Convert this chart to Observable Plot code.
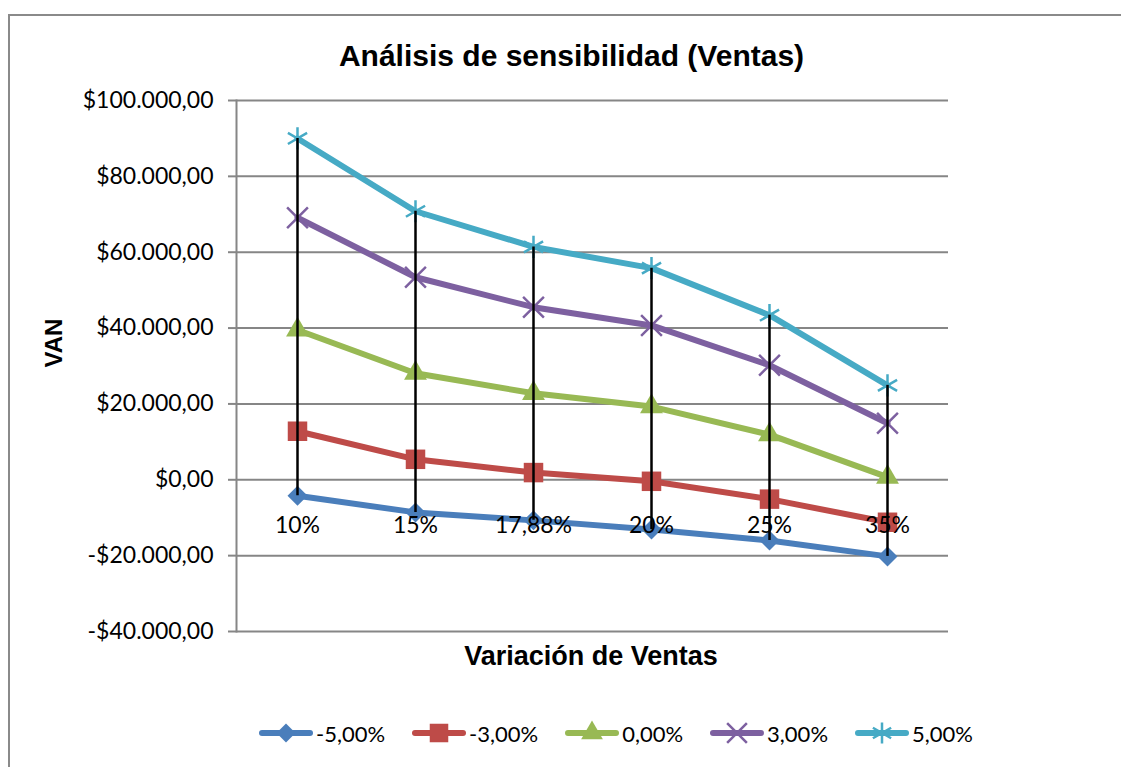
<!DOCTYPE html>
<html><head><meta charset="utf-8">
<script src="https://cdn.jsdelivr.net/npm/d3@7"></script>
<script src="https://cdn.jsdelivr.net/npm/@observablehq/plot@0.6"></script>
<style>
html,body{margin:0;padding:0;background:#fff;overflow:hidden;}
#wrap{position:relative;width:1121px;height:767px;overflow:hidden;}
#border{position:absolute;left:8px;top:14px;width:1200px;height:900px;border:2px solid #8a8a8a;box-sizing:border-box;}
#chart{position:absolute;left:0;top:0;}
#legend{position:absolute;left:259px;top:718px;height:30px;display:flex;gap:27px;align-items:center;font-family:Lato,sans-serif;font-size:22px;color:#000;}
.item{display:flex;align-items:center;}
.item svg{margin-right:3px;display:block;}
</style></head><body>
<div id="wrap"><div id="border"></div><div id="chart"></div><div id="legend"></div></div>
<script>
// ---- data ----
const categories = ["10%", "15%", "17,88%", "20%", "25%", "35%"];
const seriesNames = ["-5,00%", "-3,00%", "0,00%", "3,00%", "5,00%"];
const vanMinus5 = [-4200, -8600, -10700, -13100, -16000, -20200];
const vanMinus3 = [12800, 5400, 1900, -400, -5100, -11200];
const vanZero   = [39500, 28100, 22800, 19300, 11900, 700];
const vanPlus3  = [69100, 53400, 45500, 40700, 30200, 14900];
const vanPlus5  = [90000, 70800, 61400, 55800, 43400, 24900];
const yTicks = [-40000, -20000, 0, 20000, 40000, 60000, 80000, 100000];
const titleText = "Análisis de sensibilidad (Ventas)";
const xTitle = "Variación de Ventas";
const yTitle = "VAN";

// ---- styles ----
const colors = ["#4a7ebb", "#be4b48", "#98b954", "#7d60a0", "#46aac5"];
const symbols = ["diamond2", "square", "triangle", "times", "asterisk"];
const radii = [9, 11, 8.5, 9.5, 10.5];
const filled = [true, true, true, false, false];

const values = [vanMinus5, vanMinus3, vanZero, vanPlus3, vanPlus5];
const rows = seriesNames.flatMap((s, i) => categories.map((c, j) => ({series: s, cat: c, value: values[i][j]})));
const ranges = categories.map((c, j) => ({cat: c, lo: d3.min(values, v => v[j]), hi: d3.max(values, v => v[j])}));

const loc = d3.formatLocale({decimal: ",", thousands: ".", grouping: [3], currency: ["$", ""], minus: "-"});
const fmt = loc.format("$,.2f");

const dotMarks = seriesNames.map((s, i) => Plot.dot(rows.filter(d => d.series === s), {
  x: "cat", y: "value", symbol: symbols[i], r: radii[i],
  fill: filled[i] ? colors[i] : "none",
  stroke: filled[i] ? "none" : colors[i],
  strokeWidth: filled[i] ? 0 : 2.5
}));

const chart = Plot.plot({
  width: 1121, height: 767,
  marginTop: 100, marginBottom: 136, marginLeft: 236, marginRight: 173,
  style: {fontFamily: "Lato, sans-serif", fontSize: "23px", color: "#000", background: "transparent"},
  x: {type: "point", domain: categories, padding: 0.5, axis: null},
  y: {domain: [-40000, 100000], axis: null},
  color: {domain: seriesNames, range: colors},
  marks: [
    Plot.gridY(yTicks, {stroke: "#868686", strokeOpacity: 1, strokeWidth: 2}),
    Plot.axisY(yTicks, {tickFormat: fmt, tickSize: 8, tickPadding: 15, stroke: "#868686", strokeWidth: 2, fill: "#000", fontSize: 23}),
    Plot.frame({anchor: "left", stroke: "#868686", strokeWidth: 2}),
    Plot.line(rows, {x: "cat", y: "value", z: "series", stroke: "series", strokeWidth: 6, strokeLinejoin: "round", strokeLinecap: "round"}),
    ...dotMarks,
    Plot.ruleX(ranges, {x: "cat", y1: "lo", y2: "hi", stroke: "#000", strokeWidth: 2.5}),
    Plot.text(categories, {x: d => d, y: () => 0, dy: 53, lineAnchor: "bottom", fontSize: 23, fill: "#000"}),
    Plot.text([titleText], {frameAnchor: "top", dx: -21, dy: -35, lineAnchor: "bottom", fontSize: 30, fontWeight: "bold", fontFamily: "Liberation Sans, Arial, sans-serif"}),
    Plot.text([xTitle], {frameAnchor: "bottom", dx: -1.5, dy: 33, lineAnchor: "bottom", fontSize: 27, fontWeight: "bold", fontFamily: "Liberation Sans, Arial, sans-serif"}),
    Plot.text([yTitle], {frameAnchor: "left", dx: -175, dy: 1.5, rotate: -90, lineAnchor: "bottom", fontSize: 24, fontWeight: "bold", fontFamily: "Liberation Sans, Arial, sans-serif"})
  ]
});
document.getElementById("chart").appendChild(chart);

// ---- legend ----
const d3Sym = {diamond2: d3.symbolDiamond2, square: d3.symbolSquare, triangle: d3.symbolTriangle, times: d3.symbolTimes, asterisk: d3.symbolAsterisk};
const legend = d3.select("#legend");
seriesNames.forEach((s, i) => {
  const item = legend.append("div").attr("class", "item");
  const svg = item.append("svg").attr("width", 54).attr("height", 26);
  svg.append("line").attr("x1", 3).attr("x2", 51).attr("y1", 13).attr("y2", 13)
    .attr("stroke", colors[i]).attr("stroke-width", 6).attr("stroke-linecap", "round");
  const r = radii[i] * 0.95;
  svg.append("path").attr("transform", "translate(27,13)")
    .attr("d", d3.symbol(d3Sym[symbols[i]], Math.PI * r * r)())
    .attr("fill", filled[i] ? colors[i] : "none")
    .attr("stroke", filled[i] ? "none" : colors[i])
    .attr("stroke-width", 2.5);
  item.append("span").text(s);
});
</script>
</body></html>
